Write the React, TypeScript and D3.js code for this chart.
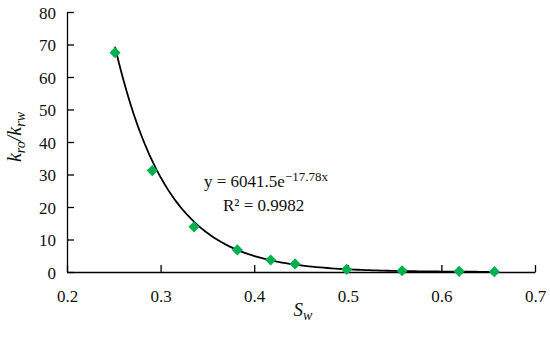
import React from "react";
import * as d3 from "d3";

// measured points (Sw, kro/krw)
const swValues = [0.2513, 0.2911, 0.3357, 0.382, 0.4176, 0.4436, 0.4988, 0.558, 0.619, 0.6566];
const ratioValues = [67.5, 31.2, 13.9, 6.8, 3.7, 2.5, 0.8, 0.4, 0.2, 0.1];
const xTicks = [0.2, 0.3, 0.4, 0.5, 0.6, 0.7];
const yTicks = [0, 10, 20, 30, 40, 50, 60, 70, 80];
// exponential trendline y = a * e^(b x)
const fitA = 6041.5;
const fitB = -17.78;

const FONT = "Liberation Serif, Times New Roman, serif";

export default function App() {
  const svgRef = React.useRef<SVGSVGElement>(null);

  React.useEffect(() => {
    const width = 550;
    const height = 337;
    const svg = d3
      .select(svgRef.current)
      .attr("width", width)
      .attr("height", height)
      .attr("font-family", FONT);
    svg.selectAll("*").remove();

    const left = 67;
    const right = 535;
    const top = 12;
    const bottom = 272;

    const xScale = d3.scaleLinear().domain([0.2, 0.7]).range([left, right]);
    const yScale = d3.scaleLinear().domain([0, 80]).range([bottom, top]);

    // axes, ticks pointing into the plot
    const xAxis = d3
      .axisBottom(xScale)
      .tickValues(xTicks)
      .tickSizeInner(-7)
      .tickSizeOuter(0)
      .tickPadding(18)
      .tickFormat(d3.format(".1f"));
    const yAxis = d3
      .axisLeft(yScale)
      .tickValues(yTicks)
      .tickSizeInner(-7)
      .tickSizeOuter(0)
      .tickPadding(11);

    const gx = svg.append("g").attr("transform", `translate(0, ${bottom})`).call(xAxis);
    const gy = svg.append("g").attr("transform", `translate(${left}, 0)`).call(yAxis);

    [gx, gy].forEach((g) => {
      g.attr("font-family", FONT).attr("font-size", 17);
      g.selectAll("path, line").attr("stroke", "#000").attr("stroke-width", 1.3);
      g.selectAll("text")
        .style("font-family", FONT)
        .style("font-size", "17px")
        .attr("fill", "#111");
    });
    gy.selectAll("text").attr("dy", "0.36em");

    // trendline
    const fitX = d3.range(0, 101).map((i) => swValues[0] + (i / 100) * (swValues[swValues.length - 1] - swValues[0]));
    const line = d3
      .line<number>()
      .x((d) => xScale(d))
      .y((d) => yScale(fitA * Math.exp(fitB * d)));
    svg
      .append("path")
      .datum(fitX)
      .attr("d", line)
      .attr("fill", "none")
      .attr("stroke", "#000")
      .attr("stroke-width", 1.8);

    // diamond markers
    const diamond = d3.symbol().type(d3.symbolSquare).size(62);
    svg
      .selectAll(".pt")
      .data(swValues)
      .enter()
      .append("path")
      .attr("class", "pt")
      .attr("d", diamond)
      .attr("transform", (d, i) => `translate(${xScale(d)}, ${yScale(ratioValues[i])}) rotate(45)`)
      .attr("fill", "#00B050");

    // equation
    const eq = svg
      .append("text")
      .attr("x", 204)
      .attr("y", 187)
      .attr("font-size", 17)
      .attr("fill", "#111");
    eq.append("tspan").text("y = 6041.5e");
    eq.append("tspan").attr("font-size", 13).attr("dy", -6).text("\u221217.78x");

    svg
      .append("text")
      .attr("x", 223)
      .attr("y", 211)
      .attr("font-size", 17)
      .attr("fill", "#111")
      .text("R\u00b2 = 0.9982");

    // axis titles
    const xt = svg
      .append("text")
      .attr("x", 303)
      .attr("y", 316)
      .attr("text-anchor", "middle")
      .attr("font-size", 19)
      .attr("font-style", "italic")
      .attr("fill", "#111");
    xt.append("tspan").text("S");
    xt.append("tspan").attr("font-size", 14).attr("dy", 4).text("w");

    const yt = svg
      .append("text")
      .attr("transform", "translate(21, 137) rotate(-90)")
      .attr("text-anchor", "middle")
      .attr("font-size", 20)
      .attr("font-style", "italic")
      .attr("fill", "#111");
    yt.append("tspan").text("k");
    yt.append("tspan").attr("font-size", 14).attr("dy", 4).text("ro");
    yt.append("tspan").attr("dy", -4).text("/k");
    yt.append("tspan").attr("font-size", 14).attr("dy", 4).text("rw");
  }, []);

  return (
    <svg
      ref={svgRef}
      style={{ position: "absolute", left: 0, top: 0, background: "#fff" }}
    />
  );
}
